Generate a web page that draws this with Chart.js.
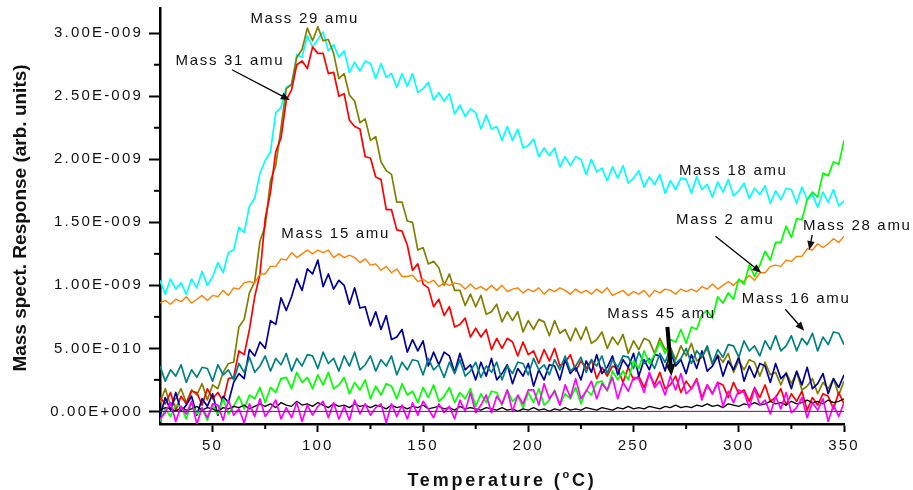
<!DOCTYPE html>
<html>
<head>
<meta charset="utf-8">
<script src="https://cdn.jsdelivr.net/npm/chart.js@4.4.0/dist/chart.umd.min.js"></script>
<style>
  html, body { margin: 0; padding: 0; background: #fff; }
  #wrap { width: 913px; height: 490px; }
</style>
</head>
<body>
<div id="wrap"><canvas id="tpd" width="913" height="490"></canvas></div>
<script>
// temperatures (°C), shared by every trace
const temps = [25,27.5,30,32.5,35,37.5,40,42.5,45,47.5,50,52.5,55,57.5,60,62.5,65,67.5,70,72.5,75,77.5,80,82.5,85,87.5,90,92.5,95,97.5,100,102.5,105,107.5,110,112.5,115,117.5,120,122.5,125,127.5,130,132.5,135,137.5,140,142.5,145,147.5,150,152.5,155,157.5,160,162.5,165,167.5,170,172.5,175,177.5,180,182.5,185,187.5,190,192.5,195,197.5,200,202.5,205,207.5,210,212.5,215,217.5,220,222.5,225,227.5,230,232.5,235,237.5,240,242.5,245,247.5,250,252.5,255,257.5,260,262.5,265,267.5,270,272.5,275,277.5,280,282.5,285,287.5,290,292.5,295,297.5,300,302.5,305,307.5,310,312.5,315,317.5,320,322.5,325,327.5,330,332.5,335,337.5,340,342.5,345,347.5,350];

// responses, in units of 1E-010
const mass18 = [10.4,9.3,10.5,9.7,10.2,9.3,10.5,9.8,11.1,10.0,
  10.7,11.8,11.0,12.6,12.8,14.6,14.2,16.3,16.9,18.9,
  19.9,20.6,23.7,24.1,25.7,26.0,28.3,28.1,29.8,28.9,
  29.5,30.1,28.6,29.1,28.1,28.6,26.9,27.7,27.0,27.8,
  27.6,26.4,27.6,26.5,26.8,25.7,26.8,25.8,26.8,25.3,
  25.6,26.1,24.7,25.3,24.6,25.2,23.6,24.3,23.4,24.0,
  23.7,22.4,23.5,22.4,22.6,21.5,22.6,21.5,22.4,20.9,
  21.1,21.6,20.2,20.9,20.3,20.9,19.4,20.2,19.5,20.2,
  20.0,18.8,20.0,19.0,19.3,18.3,19.4,18.5,19.5,18.1,
  18.5,19.1,17.8,18.6,18.0,18.8,17.3,18.3,17.6,18.5,
  18.4,17.3,18.6,17.6,18.0,17.0,18.2,17.4,18.4,17.1,
  17.5,18.1,16.9,17.7,17.2,17.9,16.5,17.5,16.8,17.7,
  17.6,16.5,17.8,16.8,17.2,16.2,17.4,16.6,17.6,16.3,
  16.7];

const mass29 = [0.7,1.8,0.5,1.0,1.8,0.7,1.7,1.3,2.2,0.9,
  2.1,1.8,3.1,3.8,3.9,6.7,7.3,9.4,10.3,13.5,
  14.7,18.3,19.5,22.5,25.6,25.9,28.1,28.7,30.4,29.4,
  30.5,29.4,29.5,28.4,26.4,26.8,25.1,24.6,22.9,23.2,
  21.5,21.8,19.8,19.1,18.8,16.6,16.6,15.1,15.0,12.8,
  13.0,11.7,11.9,11.4,10.0,10.9,9.6,9.6,8.4,9.3,
  8.3,9.2,7.7,7.9,8.5,7.1,7.9,7.2,7.9,6.3,
  7.2,6.5,7.3,7.1,6.0,7.2,6.2,6.5,5.6,6.6,
  5.7,6.7,5.4,5.7,6.3,5.0,5.9,5.3,6.1,4.6,
  5.6,4.9,5.8,5.6,4.6,5.8,4.9,5.1,4.1,5.2,
  4.4,5.4,4.0,4.3,5.0,3.7,4.5,3.9,4.6,3.1,
  4.0,3.3,4.1,3.9,2.8,3.9,2.9,3.1,2.1,3.1,
  2.2,3.1,1.7,2.0,2.6,1.4,2.3,1.8,2.6,1.3,
  2.4];

const mass31 = [1.1,0.6,1.5,0.1,1.2,0.6,1.6,1.5,0.5,1.8,
  1.0,1.5,0.8,2.6,2.7,4.8,4.5,6.5,9.1,10.9,
  15.3,17.4,20.6,21.7,24.7,25.5,27.5,27.8,27.2,28.9,
  28.4,28.4,26.8,26.9,25.0,25.2,23.1,22.6,22.4,20.2,
  20.1,18.6,18.4,16.0,16.0,14.4,14.3,13.2,11.2,11.7,
  10.1,9.8,8.3,8.9,7.6,8.3,6.7,6.9,7.4,5.9,
  6.6,5.9,6.5,4.9,5.8,5.0,5.8,5.5,4.4,5.5,
  4.5,4.8,3.8,4.9,4.0,5.0,3.6,3.9,4.5,3.2,
  4.0,3.4,4.1,2.6,3.5,2.8,3.6,3.4,2.3,3.5,
  2.5,2.8,1.9,3.0,2.1,3.1,1.8,2.1,2.8,1.5,
  2.4,1.8,2.6,1.1,2.1,1.4,2.3,2.1,1.1,2.3,
  1.4,1.7,0.8,1.9,1.1,2.1,0.8,1.1,1.8,0.5,
  1.4,0.8,1.6,0.1,1.1,0.5,1.4,1.2,0.2,1.5,
  0.6];

const mass28 = [8.6,8.8,8.5,8.9,8.7,9.1,8.6,8.9,9.2,8.8,
  9.2,9.1,9.6,9.2,9.8,9.7,10.2,10.3,10.2,10.9,
  10.9,11.5,11.5,12.1,12.0,12.6,12.2,12.5,12.8,12.5,
  12.8,12.6,12.8,12.2,12.5,12.2,12.4,12.2,11.8,12.1,
  11.6,11.7,11.2,11.5,11.0,11.3,10.7,10.7,10.8,10.3,
  10.5,10.2,10.4,9.9,10.2,10.0,10.2,10.1,9.7,10.1,
  9.7,9.9,9.6,10.0,9.6,10.0,9.5,9.7,9.8,9.4,
  9.7,9.5,9.8,9.3,9.7,9.5,9.8,9.6,9.3,9.7,
  9.4,9.6,9.3,9.7,9.4,9.8,9.2,9.4,9.6,9.2,
  9.5,9.3,9.6,9.1,9.6,9.4,9.7,9.6,9.3,9.7,
  9.5,9.7,9.5,9.9,9.7,10.1,9.7,10.0,10.3,10.0,
  10.4,10.3,10.8,10.4,11.0,11.0,11.5,11.6,11.5,12.0,
  11.9,12.3,12.3,12.9,12.8,13.3,13.0,13.3,13.7,13.4,
  13.9];

const mass15 = [-0.4,1.1,0.1,1.5,0.0,0.5,1.2,-0.3,1.0,0.4,
  1.4,-0.3,1.2,0.7,2.3,3.0,2.6,4.9,4.4,5.5,
  5.0,7.2,6.9,9.0,8.0,9.1,10.5,9.6,11.3,10.9,
  12.0,9.9,10.9,9.7,10.4,10.0,8.5,9.8,8.2,8.3,
  6.8,7.9,6.5,7.6,5.7,5.9,6.5,4.7,5.7,4.8,
  5.6,3.6,4.7,3.7,4.7,4.4,3.1,4.6,3.3,3.7,
  2.5,3.9,2.8,4.2,2.5,3.0,3.7,2.2,3.4,2.8,
  3.8,2.0,3.3,2.5,3.7,3.6,2.5,4.1,3.0,3.5,
  2.5,4.0,3.1,4.5,3.0,3.5,4.4,2.9,4.1,3.5,
  4.6,2.8,4.1,3.3,4.5,4.4,3.2,4.8,3.6,4.1,
  3.0,4.5,3.4,4.8,3.2,3.6,4.4,2.8,4.0,3.3,
  4.3,2.4,3.6,2.7,3.8,3.6,2.3,3.8,2.6,3.0,
  1.8,3.2,2.1,3.5,1.8,2.2,3.0,1.4,2.6,1.9,
  2.9];

const mass16 = [3.6,2.4,3.3,2.8,3.7,2.3,3.3,2.7,3.5,3.4,
  2.4,3.7,2.9,3.3,2.5,3.8,3.1,4.3,3.1,3.6,
  4.4,3.2,4.2,3.7,4.6,3.2,4.2,3.6,4.5,4.4,
  3.4,4.7,3.8,4.2,3.2,4.4,3.6,4.7,3.3,3.7,
  4.4,3.2,4.1,3.6,4.4,2.9,3.9,3.3,4.1,4.0,
  2.9,4.2,3.3,3.7,2.7,3.9,3.0,4.1,2.8,3.2,
  3.9,2.7,3.6,3.1,3.9,2.5,3.6,3.0,3.9,3.8,
  2.9,4.2,3.3,3.7,2.9,4.1,3.3,4.4,3.2,3.6,
  4.3,3.1,4.1,3.6,4.4,3.0,4.1,3.5,4.4,4.3,
  3.4,4.7,3.8,4.2,3.4,4.6,3.9,5.0,3.8,4.2,
  5.0,3.8,4.8,4.3,5.2,3.8,4.9,4.3,5.3,5.2,
  4.3,5.6,4.8,5.2,4.4,5.6,4.9,6.0,4.8,5.2,
  6.0,4.8,5.8,5.3,6.2,4.8,5.9,5.3,6.3,6.2,
  5.3];

const mass2 = [-0.8,0.2,-0.4,0.5,0.4,-0.6,0.7,-0.2,0.2,-0.7,
  0.5,-0.2,1.0,-0.2,0.4,1.2,0.2,1.3,1.0,1.9,
  0.7,1.9,1.5,2.6,2.7,1.8,3.1,2.3,2.7,1.8,
  2.9,2.1,3.1,1.8,2.1,2.7,1.4,2.3,1.7,2.5,
  1.0,2.0,1.3,2.2,2.0,1.0,2.2,1.3,1.6,0.7,
  1.9,1.1,2.1,0.8,1.2,1.9,0.7,1.5,1.0,1.8,
  0.4,1.4,0.7,1.6,1.5,0.5,1.7,0.8,1.2,0.3,
  1.5,0.7,1.8,0.5,0.9,1.7,0.5,1.4,1.0,1.9,
  0.6,1.7,1.3,2.3,2.4,1.6,3.2,2.5,3.2,2.5,
  4.0,3.4,4.8,3.8,4.5,5.5,4.6,5.7,5.5,6.5,
  5.4,6.7,6.5,7.7,8.0,7.4,9.1,8.6,9.4,8.9,
  10.5,10.1,11.6,10.7,11.6,12.7,12.0,13.4,13.4,14.7,
  13.8,15.3,15.2,16.8,17.4,17.0,18.9,18.7,19.8,19.6,
  21.5];

const mass45 = [-0.6,-0.1,0.7,-0.8,0.4,-0.2,0.8,-1.0,0.3,-0.5,
  0.6,0.5,-0.7,0.9,-0.3,0.2,-0.9,0.6,-0.4,1.0,
  -0.4,0.2,0.9,-0.6,0.3,-0.5,0.7,-0.8,0.5,-0.3,
  0.4,0.8,-0.5,0.7,-0.6,0.4,-0.7,0.9,-0.2,0.6,
  -0.3,0.3,0.6,-0.9,0.6,-0.4,0.5,-0.6,0.7,-0.3,
  0.8,0.2,-0.5,0.6,-0.1,0.4,-0.6,0.9,0.0,1.5,
  -0.1,0.5,1.3,-0.1,1.2,0.6,1.7,0.0,1.3,0.6,
  1.7,1.7,0.5,2.2,1.0,1.6,0.5,2.1,1.1,2.6,
  1.0,1.6,2.4,1.0,2.2,1.7,2.7,1.0,2.3,1.6,
  2.7,2.6,1.5,3.1,1.9,2.4,1.3,2.8,1.7,3.0,
  1.4,1.8,2.5,0.9,2.1,1.4,2.3,0.4,1.6,0.7,
  1.7,1.5,0.3,1.8,0.5,0.9,-0.2,1.2,0.2,1.5,
  -0.1,0.3,1.1,-0.5,0.7,0.1,1.0,-0.8,0.5,-0.4,
  0.7];

const blackTrace = [0.1,0.3,0.2,0.0,0.3,0.1,0.2,0.4,0.1,0.3,
  0.2,0.0,0.3,0.2,0.4,0.3,0.5,0.2,0.4,0.6,
  0.4,0.6,0.3,0.7,0.5,0.4,0.8,0.5,0.6,0.4,
  0.7,0.5,0.3,0.6,0.4,0.5,0.3,0.6,0.4,0.5,
  0.3,0.5,0.4,0.2,0.5,0.3,0.4,0.2,0.4,0.3,
  0.5,0.2,0.3,0.4,0.2,0.3,0.1,0.4,0.2,0.3,
  0.2,0.1,0.3,0.2,0.1,0.3,0.1,0.2,0.0,0.2,
  0.1,0.3,0.1,0.2,0.0,0.2,0.1,0.3,0.1,0.2,
  0.1,0.3,0.2,0.1,0.3,0.2,0.1,0.3,0.2,0.4,
  0.2,0.3,0.2,0.4,0.3,0.2,0.4,0.3,0.5,0.3,
  0.4,0.3,0.5,0.4,0.6,0.4,0.5,0.3,0.6,0.5,
  0.4,0.6,0.5,0.7,0.5,0.6,0.8,0.6,0.7,0.5,
  0.8,0.6,0.7,0.9,0.7,0.8,0.6,0.9,0.7,0.8,
  1.0];

const baseTemps = [25, 350];
const baseVals = [0, 0];

// axis ticks
const xMajorTicks = [50, 100, 150, 200, 250, 300, 350];
const xMinorTicks = [75, 125, 175, 225, 275, 325];
const yMajorTicks = [0, 5, 10, 15, 20, 25, 30];
const yMinorTicks = [2.5, 7.5, 12.5, 17.5, 22.5, 27.5];

// text labels and arrows, in data coordinates
const notes = [
  { text: 'Mass 29 amu', t: 93.8, v: 31.1 },
  { text: 'Mass 31 amu', t: 58.2, v: 27.8, from: [59.2, 27.1], to: [86.7, 24.7] },
  { text: 'Mass 18 amu', t: 297.4, v: 19.1 },
  { text: 'Mass 2 amu', t: 293.6, v: 15.2, from: [288.9, 13.9], to: [310.7, 11.0] },
  { text: 'Mass 28 amu', t: 356.3, v: 14.7, from: [334.9, 14.0], to: [333.5, 12.8] },
  { text: 'Mass 15 amu', t: 108.5, v: 14.1 },
  { text: 'Mass 16 amu', t: 327.3, v: 8.9, from: [322.1, 8.1], to: [331.1, 6.4] },
  { text: 'Mass 45 amu', t: 263.3, v: 7.7, from: [266.1, 6.7], to: [268.0, 2.8], thick: true }
];

const FONT = '"Liberation Sans", Arial, sans-serif';
Chart.defaults.font.family = FONT;

function pts(xs, vals) {
  return vals.map((v, i) => ({ x: xs[i], y: v }));
}

function sci(v) {
  const s = (v * 1e-10).toExponential(2);
  const parts = s.split('e');
  const n = parseInt(parts[1], 10);
  return parts[0] + 'E' + (n < 0 ? '-' : '+') + String(Math.abs(n)).padStart(3, '0');
}

function arrow(ctx, x1, y1, x2, y2, w, head) {
  const a = Math.atan2(y2 - y1, x2 - x1);
  const c = Math.cos(a), s = Math.sin(a);
  ctx.lineWidth = w;
  ctx.beginPath();
  ctx.moveTo(x1, y1);
  ctx.lineTo(x2 - c * head * 0.7, y2 - s * head * 0.7);
  ctx.stroke();
  const hw = head * 0.42;
  ctx.beginPath();
  ctx.moveTo(x2, y2);
  ctx.lineTo(x2 - head * c + hw * s, y2 - head * s - hw * c);
  ctx.lineTo(x2 - head * c - hw * s, y2 - head * s + hw * c);
  ctx.closePath();
  ctx.fill();
}

const decor = {
  id: 'decor',
  beforeDraw(chart) {
    // spacing used by the tick labels
    chart.ctx.letterSpacing = '2.2px';
  },
  afterDraw(chart) {
    const { ctx, chartArea: area } = chart;
    const x = chart.scales.x, y = chart.scales.y;
    ctx.save();
    ctx.strokeStyle = '#000';
    ctx.fillStyle = '#000';
    ctx.lineWidth = 2;
    xMinorTicks.forEach(t => {
      const px = x.getPixelForValue(t);
      ctx.beginPath(); ctx.moveTo(px, area.bottom); ctx.lineTo(px, area.bottom + 5); ctx.stroke();
    });
    yMinorTicks.forEach(v => {
      const py = y.getPixelForValue(v);
      ctx.beginPath(); ctx.moveTo(area.left - 6, py); ctx.lineTo(area.left, py); ctx.stroke();
    });

    ctx.fillStyle = '#111';
    ctx.font = '15px ' + FONT;
    ctx.letterSpacing = '1.7px';
    ctx.textAlign = 'center';
    ctx.textBaseline = 'middle';
    notes.forEach(n => {
      ctx.fillText(n.text, x.getPixelForValue(n.t), y.getPixelForValue(n.v));
      if (n.from) {
        arrow(ctx, x.getPixelForValue(n.from[0]), y.getPixelForValue(n.from[1]),
          x.getPixelForValue(n.to[0]), y.getPixelForValue(n.to[1]),
          n.thick ? 4 : 1.3, n.thick ? 12 : 9);
      }
    });

    // y title
    ctx.letterSpacing = '0px';
    ctx.font = 'bold 19px ' + FONT;
    ctx.save();
    ctx.translate(21, (area.top + area.bottom) / 2 + 2);
    ctx.rotate(-Math.PI / 2);
    ctx.fillText('Mass spect. Response (arb. units)', 0, 0);
    ctx.restore();

    // x title with superscript o
    ctx.textAlign = 'left';
    ctx.textBaseline = 'alphabetic';
    ctx.letterSpacing = '2.8px';
    const big = 'bold 18px ' + FONT, small = 'bold 11px ' + FONT;
    ctx.font = big;
    const w1 = ctx.measureText('Temperature (').width;
    const w3 = ctx.measureText('C)').width;
    ctx.font = small;
    const w2 = ctx.measureText('o').width;
    let px = (area.left + area.right) / 2 - (w1 + w2 + w3) / 2;
    const base = 486;
    ctx.font = big;
    ctx.fillText('Temperature (', px, base);
    px += w1;
    ctx.font = small;
    ctx.fillText('o', px, base - 8);
    px += w2;
    ctx.font = big;
    ctx.fillText('C)', px, base);
    ctx.restore();
  }
};

function trace(label, xs, vals, color, width) {
  return {
    label: label,
    data: pts(xs, vals),
    borderColor: color,
    borderWidth: width || 1.7,
    pointRadius: 0,
    borderJoinStyle: 'round',
    fill: false,
    tension: 0
  };
}

// first dataset is drawn on top
const datasets = [
  trace('baseline', baseTemps, baseVals, '#800080', 1),
  trace('Mass 45 amu', temps, mass45, '#ff00ff'),
  trace('black trace', temps, blackTrace, '#000000', 1.3),
  trace('Mass 2 amu', temps, mass2, '#00ff00'),
  trace('Mass 16 amu', temps, mass16, '#008080'),
  trace('Mass 15 amu', temps, mass15, '#000099'),
  trace('Mass 28 amu', temps, mass28, '#ff8000', 1.4),
  trace('Mass 31 amu', temps, mass31, '#ff0000'),
  trace('Mass 29 amu', temps, mass29, '#808000'),
  trace('Mass 18 amu', temps, mass18, '#00ffff')
];

new Chart(document.getElementById('tpd'), {
  type: 'line',
  data: { datasets: datasets },
  options: {
    responsive: false,
    devicePixelRatio: 1,
    animation: false,
    layout: { padding: { top: 8, right: 69, bottom: 0, left: 0 } },
    plugins: { legend: { display: false }, tooltip: { enabled: false } },
    scales: {
      x: {
        type: 'linear',
        min: 25,
        max: 350,
        afterBuildTicks: s => { s.ticks = xMajorTicks.map(v => ({ value: v })); },
        afterFit: s => { s.height = 66; s.paddingLeft = 0; s.paddingRight = 0; },
        ticks: { color: '#111', font: { size: 15 }, padding: 5, maxRotation: 0 },
        grid: { drawOnChartArea: false, tickLength: 8, tickWidth: 2, tickColor: '#000' },
        border: { display: true, color: '#000', width: 2.5 }
      },
      y: {
        type: 'linear',
        min: -1,
        max: 32,
        afterBuildTicks: s => { s.ticks = yMajorTicks.map(v => ({ value: v })); },
        afterFit: s => { s.width = 160; s.paddingTop = 0; s.paddingBottom = 0; },
        ticks: { color: '#111', font: { size: 15 }, padding: 6, callback: v => sci(v) },
        grid: { drawOnChartArea: false, tickLength: 11, tickWidth: 2, tickColor: '#000' },
        border: { display: true, color: '#000', width: 2.5 }
      }
    }
  },
  plugins: [decor]
});
</script>
</body>
</html>
